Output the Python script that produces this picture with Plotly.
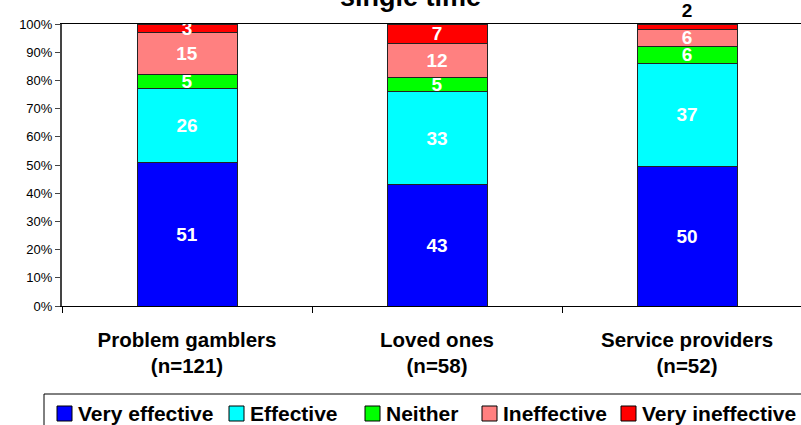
import plotly.graph_objects as go

groups = ["Problem gamblers<br>(n=121)", "Loved ones<br>(n=58)", "Service providers<br>(n=52)"]
series_names = ["Very effective", "Effective", "Neither", "Ineffective", "Very ineffective"]
very_effective = [51, 43, 50]
effective = [26, 33, 37]
neither = [5, 5, 6]
ineffective = [15, 12, 6]
very_ineffective = [3, 7, 2]
colors = ["#0000FF", "#00FFFF", "#00FF00", "#FF8080", "#FF0000"]

series_values = [very_effective, effective, neither, ineffective, very_ineffective]

FONT = "Liberation Sans, Arial, sans-serif"

# page geometry (pixels)
W, H = 801, 425
ML, MT, MB = 62, 24, 119
PW, PH = W - ML, H - MT - MB


def px_x(x):
    return (x - ML) / PW


def px_y(y):
    return (H - MB - y) / PH


fig = go.Figure()
for i, (name, vals, col) in enumerate(zip(series_names, series_values, colors)):
    last = i == len(series_names) - 1
    positions = ["inside"] * len(vals)
    text_colors = ["white"] * len(vals)
    if last:
        # smallest top segment gets its label above the bar
        for j, v in enumerate(vals):
            if v < 3:
                positions[j] = "outside"
                text_colors[j] = "black"
    fig.add_trace(go.Bar(
        x=groups, y=vals, name=name,
        marker=dict(color=col, line=dict(color="#222222", width=1)),
        width=0.4,
        text=[str(v) for v in vals],
        textposition=positions,
        insidetextanchor="middle",
        textangle=0,
        textfont=dict(family=FONT, size=19, color=text_colors, weight="bold"),
        cliponaxis=False,
        hoverinfo="skip",
        showlegend=False,
    ))

# legend row drawn along the bottom inside its own frame
shapes = [dict(
    type="rect", xref="paper", yref="paper",
    x0=px_x(44), x1=px_x(820), y0=px_y(394), y1=px_y(440),
    line=dict(color="black", width=1), fillcolor="rgba(0,0,0,0)",
)]
annotations = [dict(
    text="<b>single time</b>", xref="paper", yref="paper",
    x=px_x(410), y=1.036, xanchor="center", yanchor="bottom", showarrow=False,
    font=dict(family=FONT, size=27, color="black"),
)]
legend_left = [57, 229, 365, 482, 621]
for name, col, lx in zip(series_names, colors, legend_left):
    shapes.append(dict(
        type="rect", xref="paper", yref="paper",
        x0=px_x(lx), x1=px_x(lx + 15), y0=px_y(406), y1=px_y(421),
        line=dict(color="black", width=1), fillcolor=col,
    ))
    annotations.append(dict(
        text=f"<b>{name}</b>", xref="paper", yref="paper",
        x=px_x(lx + 19), y=px_y(413), xanchor="left", yanchor="middle",
        showarrow=False, font=dict(family=FONT, size=21, color="black"),
    ))

fig.update_layout(
    barmode="stack",
    barnorm="percent",
    width=W, height=H,
    margin=dict(l=ML, r=0, t=MT, b=MB, autoexpand=False),
    paper_bgcolor="white", plot_bgcolor="white",
    uniformtext=dict(minsize=19, mode="show"),
    showlegend=False,
    shapes=shapes,
    annotations=annotations,
)

fig.update_xaxes(
    type="category", range=[-0.5, 2.456],
    showline=True, linecolor="black", linewidth=1, mirror=True,
    ticks="outside", tickson="boundaries", ticklen=6, tickcolor="black",
    ticklabelstandoff=15,
    tickfont=dict(family=FONT, size=20.5, color="black", weight="bold"),
    showgrid=False,
)
fig.update_yaxes(
    range=[0, 100], dtick=10, ticksuffix="%",
    showline=True, linecolor="#444444", linewidth=2,
    ticks="outside", ticklen=5, tickcolor="#444444",
    tickfont=dict(family=FONT, size=13, color="black"),
    showgrid=False, zeroline=False,
)

fig.write_html("out.html")
